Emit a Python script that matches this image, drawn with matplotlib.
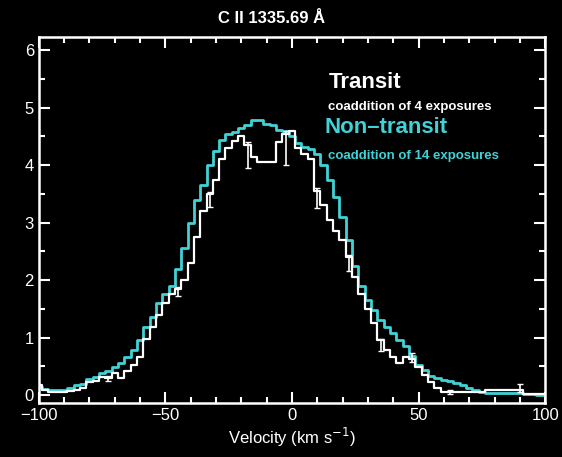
import numpy as np
import matplotlib
matplotlib.use("Agg")
from matplotlib import pyplot as plt
from matplotlib.ticker import MultipleLocator

# velocity bins (km/s)
velocity = [-100, -97.5, -95, -92.5, -90, -87.5, -85, -82.5, -80, -77.5,
            -75, -72.5, -70, -67.5, -65, -62.5, -60, -57.5, -55, -52.5,
            -50, -47.5, -45, -42.5, -40, -37.5, -35, -32.5, -30, -27.5,
            -25, -22.5, -20, -17.5, -15, -12.5, -10, -7.5, -5, -2.5,
            0, 2.5, 5, 7.5, 10, 12.5, 15, 17.5, 20, 22.5,
            25, 27.5, 30, 32.5, 35, 37.5, 40, 42.5, 45, 47.5,
            50, 52.5, 55, 57.5, 60, 62.5, 65, 67.5, 70, 72.5,
            75, 77.5, 80, 82.5, 85, 87.5, 90, 92.5, 95, 97.5, 100]

transit = [0.17, 0.09, 0.05, 0.05, 0.05, 0.07, 0.09, 0.12, 0.22, 0.25,
           0.31, 0.30, 0.38, 0.29, 0.42, 0.52, 0.66, 0.98, 1.18, 1.40,
           1.60, 1.75, 1.85, 2.00, 2.30, 2.75, 3.20, 3.50, 3.75, 4.10,
           4.30, 4.42, 4.50, 4.35, 4.15, 4.05, 4.05, 4.05, 4.40, 4.55,
           4.60, 4.30, 4.20, 4.10, 3.55, 3.30, 3.05, 2.85, 2.70, 2.40,
           2.05, 1.75, 1.50, 1.25, 0.95, 0.78, 0.66, 0.56, 0.66, 0.62,
           0.49, 0.35, 0.22, 0.12, 0.06, 0.05, 0.05, 0.05, 0.05, 0.05,
           0.05, 0.09, 0.09, 0.09, 0.09, 0.09, 0.09, 0.02, 0.02, 0.02, 0.02]

non_transit = [0.14, 0.10, 0.09, 0.09, 0.09, 0.12, 0.18, 0.20, 0.28, 0.31,
               0.38, 0.42, 0.49, 0.55, 0.66, 0.78, 0.96, 1.18, 1.36, 1.60,
               1.75, 1.90, 2.20, 2.55, 3.00, 3.40, 3.65, 4.00, 4.25, 4.43,
               4.55, 4.58, 4.65, 4.70, 4.78, 4.78, 4.72, 4.70, 4.62, 4.60,
               4.50, 4.38, 4.32, 4.28, 4.20, 4.00, 3.75, 3.45, 3.10, 2.70,
               2.25, 1.90, 1.65, 1.48, 1.30, 1.18, 1.08, 0.95, 0.85, 0.68,
               0.52, 0.43, 0.33, 0.30, 0.26, 0.24, 0.21, 0.18, 0.12, 0.09,
               0.06, 0.03, 0.03, 0.03, 0.03, 0.03, 0.03, 0.02, 0.01, 0.0, 0.0]

# a few error bars on the transit spectrum (mostly hanging below the step)
err_v = [-72.5, -45, -32.5, -17.5, -2.5, 10, 22.5, 35, 47.5, 62.5, 90]
err_y = [0.30, 1.85, 3.50, 4.35, 4.55, 3.55, 2.40, 0.95, 0.62, 0.05, 0.09]
err_lo = [0.05, 0.12, 0.22, 0.40, 0.55, 0.30, 0.25, 0.18, 0.05, 0.04, 0.03]
err_hi = [0.03, 0.03, 0.03, 0.05, 0.05, 0.05, 0.03, 0.03, 0.12, 0.04, 0.10]

cyan = "#3fd2d6"
plt.rcParams["font.family"] = ["Liberation Sans", "DejaVu Sans"]

fig = plt.figure(figsize=(5.62, 4.57), dpi=100, facecolor="black")
ax = fig.add_axes([0.069, 0.118, 0.901, 0.801], facecolor="black")

ax.step(velocity, non_transit, where="mid", color=cyan, lw=2.0)
ax.step(velocity, transit, where="mid", color="white", lw=1.6)
ax.errorbar(err_v, err_y, yerr=[err_lo, err_hi], fmt="none", ecolor="white",
            elinewidth=1.2, capsize=2)

ax.set_xlim(-100, 100)
ax.set_ylim(-0.14, 6.23)
ax.xaxis.set_major_locator(MultipleLocator(50))
ax.xaxis.set_minor_locator(MultipleLocator(10))
ax.yaxis.set_major_locator(MultipleLocator(1))
ax.yaxis.set_minor_locator(MultipleLocator(0.5))
ax.tick_params(which="both", direction="in", top=True, right=True,
               colors="white", labelsize=12, width=1.5)
ax.tick_params(which="major", length=8)
ax.tick_params(which="minor", length=4)
for sp in ax.spines.values():
    sp.set_color("white")
    sp.set_linewidth(1.8)

ax.set_title("C II 1335.69 Å", color="white", fontsize=12, fontweight="bold",
             x=0.46, pad=10)
ax.set_xlabel("Velocity (km s$^{-1}$)", color="white", fontsize=12, labelpad=2)

ax.text(0.572, 0.877, "Transit", color="white", fontsize=16,
        fontweight="bold", transform=ax.transAxes, va="center")
ax.text(0.572, 0.81, "coaddition of 4 exposures", color="white", fontsize=9.5,
        fontweight="bold", transform=ax.transAxes, va="center")
ax.text(0.564, 0.752, "Non\u2013transit", color=cyan, fontsize=16,
        fontweight="bold", transform=ax.transAxes, va="center")
ax.text(0.572, 0.675, "coaddition of 14 exposures", color=cyan, fontsize=9.5,
        fontweight="bold", transform=ax.transAxes, va="center")

fig.savefig("out.png", dpi=100, facecolor="black")
